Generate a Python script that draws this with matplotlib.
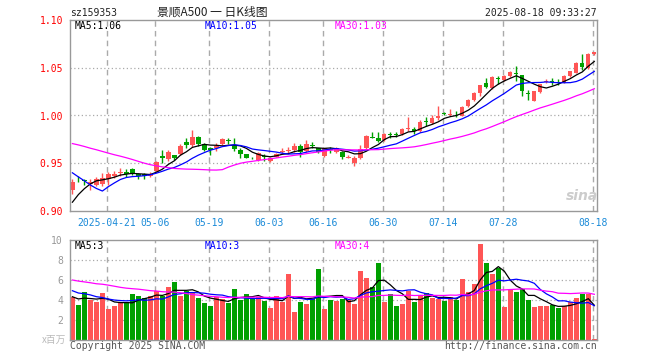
import numpy as np
import pandas as pd
import matplotlib
matplotlib.use('Agg')
import matplotlib.pyplot as plt

plt.rcParams['font.family'] = ['DejaVu Sans Mono']

# daily candles 2025-04-11 .. 2025-08-18
opens = [0.922, 0.934, 0.932, 0.928, 0.927, 0.928, 0.933, 0.937, 0.940, 0.941,
         0.944, 0.939, 0.939, 0.937, 0.942, 0.958, 0.954, 0.959, 0.960, 0.972,
         0.969, 0.978, 0.970, 0.966, 0.966, 0.970, 0.974, 0.969, 0.964, 0.960,
         0.956, 0.953, 0.958, 0.952, 0.957, 0.962, 0.963, 0.964, 0.968, 0.963,
         0.969, 0.966, 0.958, 0.965, 0.962, 0.962, 0.956, 0.950, 0.955, 0.966,
         0.977, 0.976, 0.974, 0.981, 0.981, 0.981, 0.986, 0.986, 0.984, 0.994,
         0.992, 0.997, 1.003, 1.001, 1.000, 1.000, 1.010, 1.016, 1.024, 1.034,
         1.029, 1.039, 1.037, 1.041, 1.045, 1.042, 1.024, 1.015, 1.025, 1.035,
         1.036, 1.035, 1.034, 1.041, 1.045, 1.055, 1.050, 1.064]
closes = [0.930, 0.933, 0.931, 0.930, 0.934, 0.935, 0.939, 0.939, 0.941, 0.939,
          0.939, 0.937, 0.937, 0.939, 0.951, 0.955, 0.962, 0.956, 0.968, 0.969,
          0.978, 0.970, 0.964, 0.964, 0.968, 0.975, 0.973, 0.965, 0.960, 0.955,
          0.955, 0.961, 0.957, 0.956, 0.960, 0.963, 0.964, 0.968, 0.962, 0.970,
          0.968, 0.962, 0.966, 0.964, 0.966, 0.957, 0.957, 0.955, 0.965, 0.979,
          0.976, 0.973, 0.981, 0.980, 0.980, 0.986, 0.987, 0.984, 0.993, 0.993,
          0.997, 1.000, 1.002, 1.002, 0.999, 1.009, 1.016, 1.024, 1.032, 1.030,
          1.040, 1.038, 1.041, 1.046, 1.043, 1.026, 1.023, 1.026, 1.033, 1.036,
          1.035, 1.034, 1.041, 1.047, 1.055, 1.051, 1.064, 1.066]
highs = [0.934, 0.937, 0.933, 0.933, 0.936, 0.940, 0.941, 0.942, 0.945, 0.944,
         0.945, 0.940, 0.940, 0.941, 0.952, 0.964, 0.964, 0.959, 0.970, 0.976,
         0.985, 0.979, 0.971, 0.967, 0.971, 0.976, 0.976, 0.976, 0.966, 0.960,
         0.957, 0.962, 0.960, 0.957, 0.961, 0.966, 0.967, 0.971, 0.970, 0.974,
         0.972, 0.966, 0.966, 0.967, 0.967, 0.963, 0.959, 0.958, 0.969, 0.980,
         0.983, 0.983, 0.982, 0.983, 0.983, 0.987, 0.998, 0.988, 0.995, 0.998,
         1.001, 1.010, 1.004, 1.007, 1.005, 1.010, 1.017, 1.025, 1.032, 1.039,
         1.041, 1.041, 1.042, 1.047, 1.052, 1.042, 1.027, 1.026, 1.033, 1.038,
         1.039, 1.038, 1.042, 1.047, 1.056, 1.064, 1.065, 1.067]
lows = [0.918, 0.930, 0.927, 0.922, 0.926, 0.926, 0.927, 0.935, 0.937, 0.936,
        0.938, 0.934, 0.934, 0.936, 0.941, 0.950, 0.952, 0.953, 0.959, 0.966,
        0.967, 0.968, 0.963, 0.959, 0.963, 0.969, 0.970, 0.963, 0.956, 0.955,
        0.954, 0.952, 0.952, 0.951, 0.957, 0.960, 0.961, 0.962, 0.957, 0.962,
        0.966, 0.961, 0.957, 0.961, 0.961, 0.954, 0.955, 0.947, 0.954, 0.965,
        0.976, 0.972, 0.973, 0.976, 0.977, 0.980, 0.984, 0.981, 0.983, 0.989,
        0.991, 0.995, 1.000, 0.999, 0.998, 0.999, 1.009, 1.015, 1.020, 1.029,
        1.028, 1.033, 1.036, 1.040, 1.036, 1.020, 1.016, 1.015, 1.024, 1.034,
        1.032, 1.032, 1.034, 1.040, 1.044, 1.048, 1.049, 1.063]
# volume, x百万
volumes = [4.33, 3.5, 4.8, 4.0, 3.83, 4.7, 3.1, 3.4, 3.67, 3.83,
           4.6, 4.4, 4.17, 4.4, 4.9, 4.43, 5.3, 5.8, 4.4, 4.9,
           4.73, 4.2, 3.73, 3.4, 4.33, 4.1, 3.73, 5.1, 4.0, 4.6,
           4.23, 4.33, 3.93, 3.2, 4.4, 3.77, 6.6, 2.8, 3.8, 3.6,
           4.1, 7.1, 3.1, 4.03, 3.9, 4.1, 4.0, 3.6, 6.93, 6.2,
           5.27, 7.7, 3.8, 4.6, 3.4, 3.6, 4.9, 3.83, 4.47, 4.67,
           4.2, 4.1, 3.9, 4.27, 4.03, 6.1, 4.77, 5.6, 9.6, 7.7,
           6.63, 7.17, 3.3, 5.1, 4.83, 5.07, 4.0, 3.3, 3.4, 3.4,
           3.5, 3.2, 3.4, 3.8, 4.2, 4.63, 4.63, 0.13]

# sessions before the window, only there so the MA lines start where they do
prior_closes = [0.975, 0.980, 0.985, 0.982, 0.988, 0.992, 0.990, 0.986, 0.989, 0.993,
                0.996, 0.994, 0.987, 0.986, 0.988, 0.985, 0.982, 0.980, 0.978, 0.982,
                0.976, 0.972, 0.974, 0.970, 0.962, 0.893, 0.900, 0.905, 0.918]
prior_volumes = [6.8, 7.2, 6.5, 6.9, 6.1, 5.9, 6.6, 7.0, 6.3, 6.2,
                 5.8, 6.4, 6.7, 6.0, 6.5, 6.1, 6.2, 6.1, 7.4, 8.0,
                 5.8, 5.5, 5.2, 5.6, 5.55, 4.6, 4.4, 4.2, 4.1]

tick_idx = [6, 14, 23, 33, 42, 52, 62, 72, 87]
tick_labels = ['2025-04-21', '05-06', '05-19', '06-03', '06-16',
               '06-30', '07-14', '07-28', '08-18']

RED = '#ff5555'
GREEN = '#00a000'
GRID = '#aaaaaa'

n0 = len(prior_closes)
s_close = pd.Series(prior_closes + closes)
s_vol = pd.Series(prior_volumes + volumes)
ma = {w: s_close.rolling(w).mean().values[n0:] for w in (5, 10, 30)}
vma = {w: s_vol.rolling(w).mean().values[n0:] for w in (5, 10, 30)}

x = np.arange(len(closes))
o, c, h, l = map(np.array, (opens, closes, highs, lows))
cols = np.where(c >= o, RED, GREEN)

W, H = 660, 360
fig = plt.figure(figsize=(W / 100, H / 100), dpi=100)


def rect(left, top, right, bottom):
    return [left / W, 1 - bottom / H, (right - left) / W, (bottom - top) / H]


def ftext(px, py, s, **kw):
    fig.text(px / W, 1 - py / H, s, va='center', **kw)


ax = fig.add_axes(rect(70, 20, 597, 211))
axv = fig.add_axes(rect(70, 240, 597, 340))
grid_x = [t - 0.25 for t in tick_idx]

# price panel
for v in (0.95, 1.00, 1.05):
    ax.axhline(v, color=GRID, lw=0.9, ls=(0, (1, 2)), zorder=0)
for gx in grid_x:
    ax.axvline(gx, color=GRID, lw=1, ls=(0, (4, 3)), zorder=0)
ax.vlines(x, l, h, colors=cols, lw=1, zorder=2)
ax.bar(x, np.maximum(np.abs(c - o), 0.0008), bottom=np.minimum(o, c),
       width=0.72, color=cols, linewidth=0, zorder=2)
ax.plot(x, ma[5], color='black', lw=0.9, zorder=3)
ax.plot(x, ma[10], color='#0000ff', lw=0.9, zorder=3)
ax.plot(x, ma[30], color='#ff00ff', lw=0.9, zorder=3)
ax.set_xlim(-0.4, 87.45)
ax.set_ylim(0.90, 1.10)
ax.set_yticks([0.90, 0.95, 1.00, 1.05, 1.10], ['0.90', '0.95', '1.00', '1.05', '1.10'])
ax.set_xticks(grid_x, tick_labels)
ax.tick_params(axis='y', length=0, pad=5, labelcolor='red', labelsize=7)
ax.tick_params(axis='x', length=0, pad=5, labelcolor='#1a8ad8', labelsize=7)

# volume panel
for v in (2, 4, 6, 8):
    axv.axhline(v, color=GRID, lw=0.9, ls=(0, (1, 2)), zorder=0)
for gx in grid_x:
    axv.axvline(gx, color=GRID, lw=1, ls=(0, (4, 3)), zorder=0)
axv.bar(x, volumes, width=0.82, color=cols, linewidth=0, zorder=2)
axv.plot(x, vma[5], color='black', lw=0.9, zorder=3)
axv.plot(x, vma[10], color='#0000ff', lw=0.9, zorder=3)
axv.plot(x, vma[30], color='#ff00ff', lw=0.9, zorder=3)
axv.set_xlim(-0.4, 87.45)
axv.set_ylim(0, 10)
axv.set_yticks([2, 4, 6, 8, 10], ['2', '4', '6', '8', '10'])
axv.set_xticks([])
axv.tick_params(axis='y', length=0, pad=5, labelcolor='#999999', labelsize=7)

for a in (ax, axv):
    for sp in a.spines.values():
        sp.set_color('#999999')
        sp.set_linewidth(1)

# header and legends
ftext(70, 13, 'sz159353', fontsize=7, color='#222222')
ftext(212, 12, '景顺A500 一 日K线图', fontsize=8.5, color='#222222', ha='center',
      family=['Noto Sans CJK SC', 'DejaVu Sans'])
ftext(597, 13, '2025-08-18 09:33:27', fontsize=7, color='#222222', ha='right')

ftext(75, 26, f'MA5:{ma[5][-1]:.2f}', fontsize=7, color='black')
ftext(205, 26, f'MA10:{ma[10][-1]:.2f}', fontsize=7, color='#0000ff')
ftext(335, 26, f'MA30:{ma[30][-1]:.2f}', fontsize=7, color='#ff00ff')
ftext(75, 246, f'MA5:{int(vma[5][-1])}', fontsize=7, color='black')
ftext(205, 246, f'MA10:{int(vma[10][-1])}', fontsize=7, color='#0000ff')
ftext(335, 246, f'MA30:{int(vma[30][-1])}', fontsize=7, color='#ff00ff')

ftext(66, 340, 'x百万', fontsize=7, color='#bbbbbb', ha='right',
      family=['Noto Sans CJK SC', 'DejaVu Sans'])
ftext(70, 346, 'Copyright 2025 SINA.COM', fontsize=7, color='#555555')
ftext(597, 346, 'http://finance.sina.com.cn', fontsize=7, color='#555555', ha='right')
ftext(582, 196, 'sina', fontsize=10, color='#cccccc', ha='center',
      style='italic', weight='bold', family='DejaVu Sans')

fig.savefig('out.png', dpi=100)
